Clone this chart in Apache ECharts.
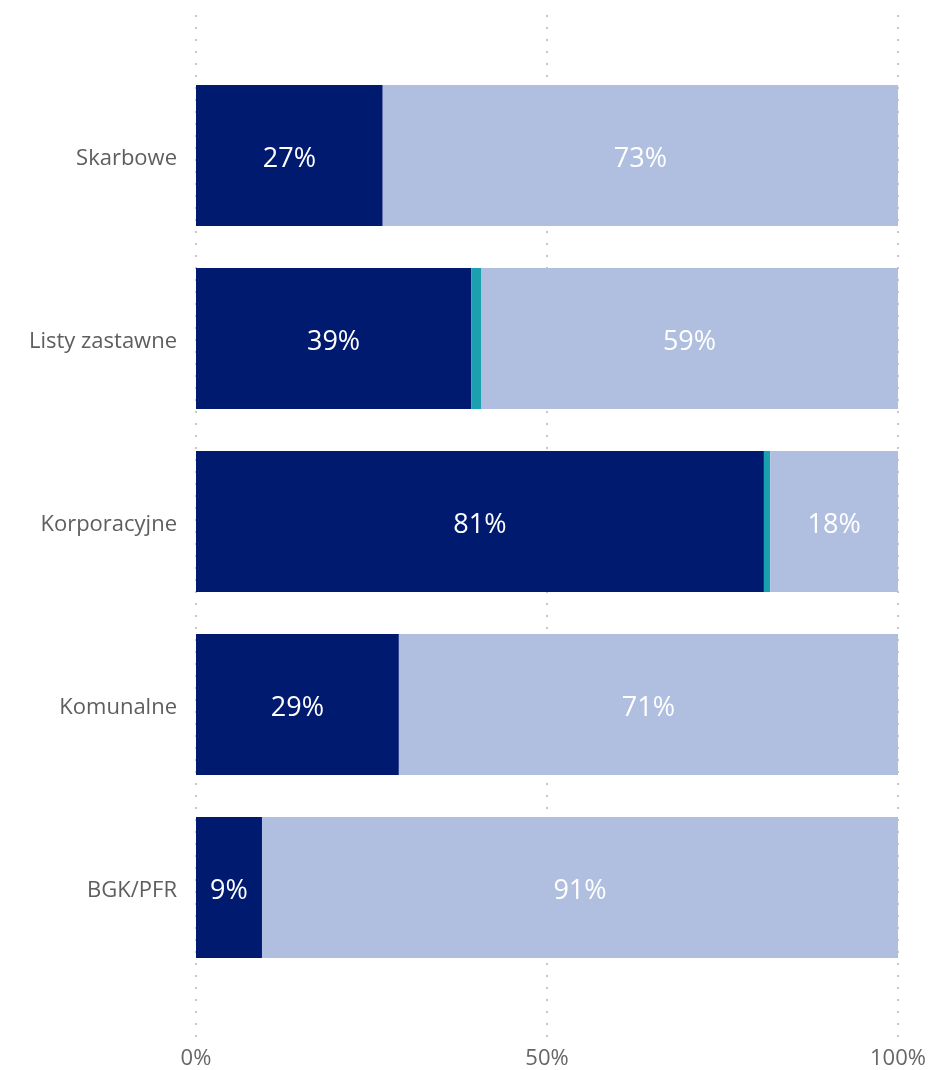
<!DOCTYPE html>
<html>
<head>
<meta charset="utf-8">
<script src="https://cdn.jsdelivr.net/npm/echarts@6/dist/echarts.min.js"></script>
<style>html,body{margin:0;padding:0;background:#fff}#c{width:931px;height:1070px}</style>
</head>
<body>
<div id="c"></div>
<script>
const categories = ['Skarbowe', 'Listy zastawne', 'Korporacyjne', 'Komunalne', 'BGK/PFR'];
const darkValues = [26.6, 39.2, 80.9, 28.9, 9.4];
const tealValues = [0, 1.4, 0.9, 0, 0];
const lightValues = [73.4, 59.4, 18.2, 71.1, 90.6];
const xTicks = [0, 50, 100];

const font = '"Open Sans", "Noto Sans", sans-serif';
const chart = echarts.init(document.getElementById('c'));
const lbl = {
  show: true, position: 'inside', color: '#fff', fontSize: 27, fontFamily: font,
  offset: [0, 4],
  formatter: p => p.value > 0 ? Math.round(p.value) + '%' : ''
};
chart.setOption({
  animation: false,
  grid: [
    { left: 196, right: 33, top: 15, bottom: 30 },
    { left: 196, right: 33, top: 64, bottom: 91 }
  ],
  xAxis: [
    {
      gridIndex: 0, type: 'value', min: 0, max: 100, interval: 50,
      axisLine: { show: false }, axisTick: { show: false },
      axisLabel: { color: '#666', fontSize: 22, fontFamily: font, margin: 8,
        formatter: v => xTicks.includes(v) ? v + '%' : '' },
      splitLine: { show: true, lineStyle: { color: '#c8c8c8', width: 2, type: [2, 10] } }
    },
    {
      gridIndex: 1, type: 'value', min: 0, max: 100,
      show: false, splitLine: { show: false }
    }
  ],
  yAxis: [
    { gridIndex: 0, type: 'category', data: categories, show: false },
    {
      gridIndex: 1, type: 'category', data: categories, inverse: true,
      axisLine: { show: false }, axisTick: { show: false },
      axisLabel: { color: '#605e5c', fontSize: 22, fontFamily: font, margin: 19,
        formatter: v => '{a|' + v + '}',
        rich: { a: { color: '#605e5c', fontSize: 22, fontFamily: font, padding: [6, 0, 0, 0] } } }
    }
  ],
  series: [
    { name: 'A', type: 'bar', stack: 's', xAxisIndex: 1, yAxisIndex: 1, data: darkValues,
      barCategoryGap: '23%', itemStyle: { color: '#001A70' }, label: lbl },
    { name: 'B', type: 'bar', stack: 's', xAxisIndex: 1, yAxisIndex: 1, data: tealValues,
      barCategoryGap: '23%', itemStyle: { color: '#1BA0B0' }, label: { show: false } },
    { name: 'C', type: 'bar', stack: 's', xAxisIndex: 1, yAxisIndex: 1, data: lightValues,
      barCategoryGap: '23%', itemStyle: { color: '#B0BEDF' }, label: lbl }
  ]
});
</script>
</body>
</html>
